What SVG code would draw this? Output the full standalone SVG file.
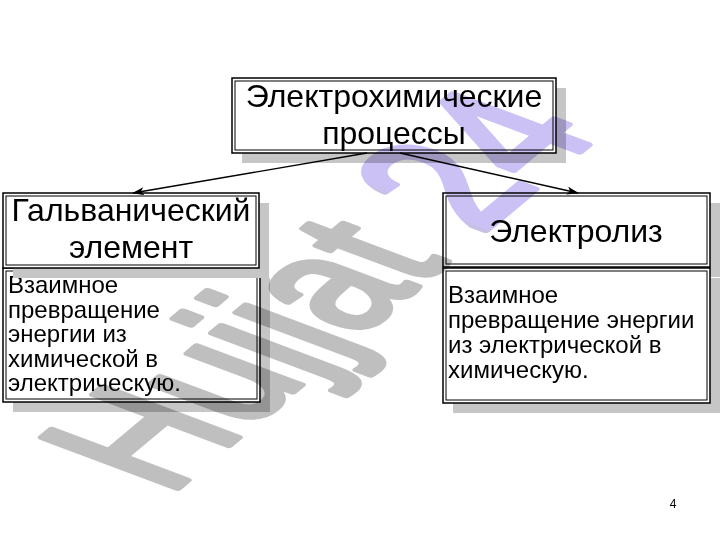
<svg xmlns="http://www.w3.org/2000/svg" width="720" height="540" viewBox="0 0 720 540">
<style>
.shadow{fill:#c6c6c6;stroke:none}
.outer{fill:#ffffff;stroke:#000;stroke-width:1.5}
.inner{fill:none;stroke:#000;stroke-width:1}
.head{font-family:"Liberation Sans",Arial,sans-serif;font-size:32px;fill:#000;text-anchor:middle}
.body{font-family:"Liberation Sans",Arial,sans-serif;font-size:24px;fill:#000}
.conn{stroke:#000;stroke-width:1.3;fill:none;marker-end:url(#arr)}
.wm{font-family:"Liberation Sans",Arial,sans-serif;font-weight:normal;font-size:100px;fill:url(#wmg);stroke:url(#wmg);stroke-width:4;stroke-linejoin:round;mix-blend-mode:multiply}
</style>
<defs>
<marker id="arr" viewBox="0 0 12 8" refX="11" refY="4" markerWidth="12" markerHeight="8" markerUnits="userSpaceOnUse" orient="auto">
<path d="M0,0 L12,4 L0,8 L3,4 Z" fill="#000"/>
</marker>
<linearGradient id="wmg" gradientUnits="userSpaceOnUse" x1="0" y1="0" x2="400" y2="0">
<stop offset="0" stop-color="#bfbfbf"/>
<stop offset="0.69" stop-color="#bfbfbf"/>
<stop offset="0.73" stop-color="#cbc1f4"/>
<stop offset="1" stop-color="#cbc1f4"/>
</linearGradient>
</defs>
<rect width="720" height="540" fill="#ffffff"/>

<g id="title">
<rect class="shadow" x="242" y="88" width="324" height="75"/>
<rect class="outer" x="232" y="78" width="324" height="75"/>
<rect class="inner" x="235" y="81" width="318" height="69"/>
<text class="head" x="394" y="107">Электрохимические</text>
<text class="head" x="394" y="144">процессы</text>
</g>

<g id="galvanic-body">
<rect class="shadow" x="13" y="278" width="257" height="134"/>
<rect class="outer" x="3" y="268" width="257" height="134"/>
<rect class="inner" x="6" y="271" width="251" height="128"/>
<text class="body" x="8" y="293">Взаимное</text>
<text class="body" x="8" y="317.5">превращение</text>
<text class="body" x="8" y="342">энергии из</text>
<text class="body" x="8" y="366.5">химической в</text>
<text class="body" x="8" y="391">электрическую.</text>
</g>

<g id="galvanic">
<rect class="shadow" x="13" y="203" width="256" height="75"/>
<rect class="outer" x="3" y="193" width="256" height="75"/>
<rect class="inner" x="6" y="196" width="250" height="69"/>
<text class="head" x="131" y="221">Гальванический</text>
<text class="head" x="131" y="258">элемент</text>
</g>

<g id="electrolysis">
<rect class="shadow" x="453" y="203" width="267" height="74"/>
<rect class="outer" x="443" y="193" width="267" height="74"/>
<rect class="inner" x="446" y="196" width="261" height="68"/>
<text class="head" x="576" y="242">Электролиз</text>
</g>

<g id="electrolysis-body">
<rect class="shadow" x="453" y="278" width="267" height="135"/>
<rect class="outer" x="443" y="268" width="267" height="135"/>
<rect class="inner" x="446" y="271" width="261" height="129"/>
<text class="body" x="448" y="303">Взаимное</text>
<text class="body" x="448" y="328">превращение энергии</text>
<text class="body" x="448" y="353">из электрической в</text>
<text class="body" x="448" y="377.5">химическую.</text>
</g>

<g id="connectors">
<line class="conn" x1="367" y1="153" x2="133" y2="193"/>
<line class="conn" x1="400" y1="153" x2="578" y2="193"/>
</g>

<g id="watermark">
<text class="wm" transform="matrix(1.1 -0.92 1.96 0.736 168 496)">Hujjat 24</text>
</g>

<text x="673" y="508" font-family="Liberation Sans,Arial,sans-serif" font-size="12" text-anchor="middle">4</text>
</svg>
